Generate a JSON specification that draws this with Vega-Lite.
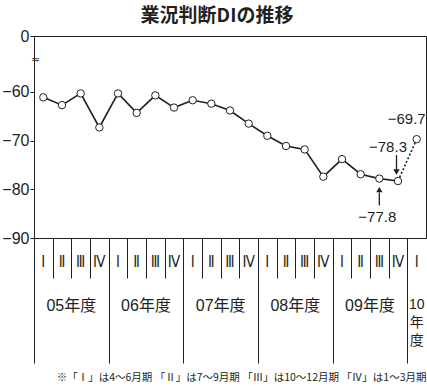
{
  "$schema": "https://vega.github.io/schema/vega-lite/v6.json",
  "width": 392,
  "height": 202,
  "autosize": {"type": "none"},
  "padding": {"left": 34, "top": 36, "right": 1, "bottom": 149},
  "background": "white",
  "title": {"text": "業況判断DIの推移", "font": "Noto Sans CJK JP", "fontSize": 19, "fontWeight": "bold", "color": "#231f20", "anchor": "middle", "dx": -13, "offset": 2},
  "config": {"view": {"stroke": "#231f20", "strokeWidth": 1}},
  "data": {"values": [
      {"q": "05Q1", "v": -61.1},
      {"q": "05Q2", "v": -62.7},
      {"q": "05Q3", "v": -60.3},
      {"q": "05Q4", "v": -67.3},
      {"q": "06Q1", "v": -60.3},
      {"q": "06Q2", "v": -64.3},
      {"q": "06Q3", "v": -60.7},
      {"q": "06Q4", "v": -63.2},
      {"q": "07Q1", "v": -61.7},
      {"q": "07Q2", "v": -62.4},
      {"q": "07Q3", "v": -63.8},
      {"q": "07Q4", "v": -66.5},
      {"q": "08Q1", "v": -69.0},
      {"q": "08Q2", "v": -71.1},
      {"q": "08Q3", "v": -71.8},
      {"q": "08Q4", "v": -77.4},
      {"q": "09Q1", "v": -73.8},
      {"q": "09Q2", "v": -76.9},
      {"q": "09Q3", "v": -77.8},
      {"q": "09Q4", "v": -78.3},
      {"q": "10Q1", "v": -69.7}
  ]},
  "layer": [
    {
      "transform": [{"filter": "datum.q != '10Q1'"}],
      "mark": {"type": "line", "color": "#231f20", "strokeWidth": 1.6},
      "encoding": {
        "x": {"field": "q", "type": "ordinal", "scale": {"type": "band", "paddingInner": 0, "paddingOuter": 0}, "axis": {"orient": "bottom", "title": null, "domain": false, "labels": false, "tickSize": 40, "tickOffset": -9.333, "tickColor": "#231f20", "tickWidth": 1}},
        "y": {"field": "v", "type": "quantitative", "scale": {"domain": [-90, -48.5], "nice": false, "zero": false}, "axis": {"orient": "left", "title": null, "domain": false, "grid": false, "values": [-90, -80, -70, -60, -48.5], "labelExpr": "datum.value > -50 ? '0' : format(datum.value, 'd')", "tickSize": 4, "tickColor": "#231f20", "labelPadding": 1, "labelFont": "Liberation Sans", "labelFontSize": 16, "labelColor": "#231f20"}}
      }
    },
    {
      "transform": [{"filter": {"field": "q", "oneOf": ["09Q4", "10Q1"]}}],
      "mark": {"type": "line", "color": "#231f20", "strokeWidth": 1.6, "strokeDash": [2, 2]},
      "encoding": {
        "x": {"field": "q", "type": "ordinal", "axis": {"orient": "bottom", "title": null, "domain": false, "ticks": false, "labelExpr": "['Ⅰ','Ⅱ','Ⅲ','Ⅳ'][toNumber(slice(datum.value,3))-1]", "labelAngle": 0, "labelBaseline": "middle", "labelPadding": 23.5, "labelFont": "DejaVu Sans Condensed, Noto Sans CJK JP", "labelFontSize": 15, "labelColor": "#231f20"}},
        "y": {"field": "v", "type": "quantitative", "axis": {"orient": "left", "title": null, "domain": false, "grid": false, "ticks": false, "values": [-53.4], "labelExpr": "'≈'", "labelAlign": "center", "labelBaseline": "middle", "labelPadding": -1, "labelFont": "DejaVu Sans", "labelFontSize": 11, "labelColor": "#231f20"}}
      }
    },
    {
      "mark": {"type": "point", "filled": true, "fill": "white", "stroke": "#231f20", "strokeWidth": 1, "size": 55, "opacity": 1},
      "encoding": {
        "x": {"field": "q", "type": "ordinal", "axis": {"orient": "bottom", "title": null, "domain": false, "labels": false, "tickSize": 125, "tickOffset": -9.333, "tickColor": "#231f20", "tickWidth": 1, "values": ["05Q1", "06Q1", "07Q1", "08Q1", "09Q1", "10Q1"]}},
        "y": {"field": "v", "type": "quantitative", "axis": null}
      }
    },
    {
      "transform": [{"filter": "datum.q == '09Q4'"}],
      "mark": {"type": "text", "font": "Liberation Sans", "fontSize": 15, "color": "#231f20", "align": "center", "baseline": "middle", "dx": -10, "dy": -34},
      "encoding": {
        "x": {"field": "q", "type": "ordinal", "axis": {"orient": "bottom", "title": "※「Ⅰ」は4～6月期 「Ⅱ」は7～9月期 「Ⅲ」は10～12月期 「Ⅳ」は1～3月期", "titleFont": "Noto Sans CJK JP", "titleFontSize": 10.5, "titleFontWeight": "normal", "titleColor": "#231f20", "titleAnchor": "end", "titlePadding": 59, "domain": false, "ticks": false, "values": ["05Q3", "06Q3", "07Q3", "08Q3", "09Q3"], "labelOffset": -9.333, "labelExpr": "slice(datum.value,0,2) + '年度'", "labelAngle": 0, "labelBaseline": "middle", "labelPadding": 67.5, "labelFont": "Liberation Sans, Noto Sans CJK JP", "labelFontSize": 16, "labelColor": "#231f20"}},
        "y": {"field": "v", "type": "quantitative", "axis": null},
        "text": {"field": "v", "type": "quantitative", "format": ".1f"}
      }
    },
    {
      "transform": [{"filter": "datum.q == '09Q3'"}],
      "mark": {"type": "text", "font": "Liberation Sans", "fontSize": 15, "color": "#231f20", "align": "center", "baseline": "middle", "dx": -2, "dy": 38.5},
      "encoding": {
        "x": {"field": "q", "type": "ordinal", "axis": {"orient": "bottom", "title": null, "domain": false, "ticks": false, "values": ["10Q1"], "labelExpr": "'10'", "labelAngle": 0, "labelBaseline": "middle", "labelPadding": 66.5, "labelFont": "Liberation Sans", "labelFontSize": 14, "labelColor": "#231f20"}},
        "y": {"field": "v", "type": "quantitative", "axis": null},
        "text": {"field": "v", "type": "quantitative", "format": ".1f"}
      }
    },
    {
      "transform": [{"filter": "datum.q == '10Q1'"}],
      "mark": {"type": "text", "font": "Liberation Sans", "fontSize": 15, "color": "#231f20", "align": "right", "baseline": "middle", "dx": 9, "dy": -20},
      "encoding": {
        "x": {"field": "q", "type": "ordinal", "axis": {"orient": "bottom", "title": null, "domain": false, "ticks": false, "values": ["10Q1"], "labelExpr": "'年'", "labelAngle": 0, "labelBaseline": "middle", "labelPadding": 84.5, "labelFont": "Noto Sans CJK JP", "labelFontSize": 14, "labelColor": "#231f20"}},
        "y": {"field": "v", "type": "quantitative", "axis": null},
        "text": {"field": "v", "type": "quantitative", "format": ".1f"}
      }
    },
    {
      "transform": [{"filter": "datum.q == '09Q4'"}],
      "mark": {"type": "rule", "color": "#231f20", "strokeWidth": 1.3, "xOffset": -1.5, "yOffset": -26, "y2Offset": -11},
      "encoding": {
        "x": {"field": "q", "type": "ordinal", "axis": {"orient": "bottom", "title": null, "domain": false, "ticks": false, "values": ["10Q1"], "labelExpr": "'度'", "labelAngle": 0, "labelBaseline": "middle", "labelPadding": 102.5, "labelFont": "Noto Sans CJK JP", "labelFontSize": 14, "labelColor": "#231f20"}},
        "y": {"field": "v", "type": "quantitative", "axis": null},
        "y2": {"field": "v"}
      }
    },
    {
      "transform": [{"filter": "datum.q == '09Q3'"}],
      "mark": {"type": "rule", "color": "#231f20", "strokeWidth": 1.3, "yOffset": 14, "y2Offset": 27},
      "encoding": {
        "x": {"field": "q", "type": "ordinal", "axis": null},
        "y": {"field": "v", "type": "quantitative", "axis": null},
        "y2": {"field": "v"}
      }
    },
    {
      "transform": [{"filter": "datum.q == '09Q4'"}],
      "mark": {"type": "point", "shape": "triangle-down", "filled": true, "color": "#231f20", "opacity": 1, "size": 40, "xOffset": -1.5, "yOffset": -9},
      "encoding": {
        "x": {"field": "q", "type": "ordinal", "axis": null},
        "y": {"field": "v", "type": "quantitative", "axis": null}
      }
    },
    {
      "transform": [{"filter": "datum.q == '09Q3'"}],
      "mark": {"type": "point", "shape": "triangle-up", "filled": true, "color": "#231f20", "opacity": 1, "size": 40, "yOffset": 11},
      "encoding": {
        "x": {"field": "q", "type": "ordinal", "axis": null},
        "y": {"field": "v", "type": "quantitative", "axis": null}
      }
    }
  ],
  "resolve": {"axis": {"x": "independent", "y": "independent"}}
}
